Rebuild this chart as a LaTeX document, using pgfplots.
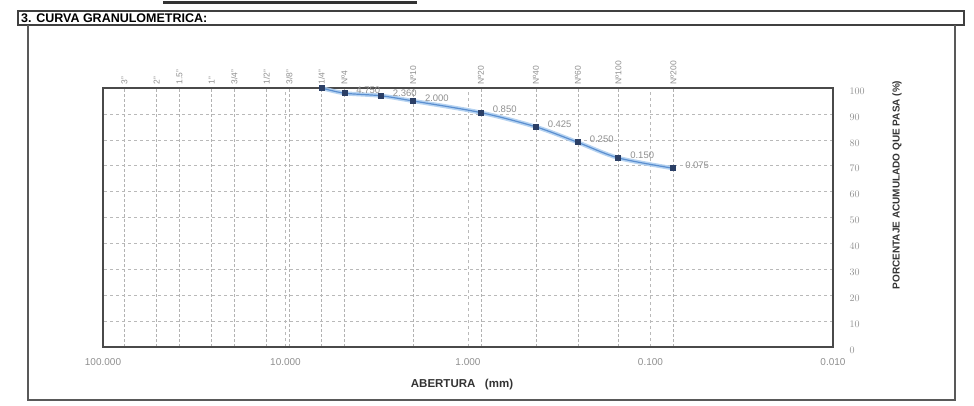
\documentclass[border=0pt]{standalone}
\usepackage{fontspec}
\setmainfont{Liberation Sans}
\usepackage{pgfplots}
\pgfplotsset{compat=1.18}
\definecolor{tickgray}{HTML}{8F8F8F}
\definecolor{lineblue}{HTML}{5B8FD0}
\definecolor{lightblue}{HTML}{A9CBEE}
\definecolor{navy}{HTML}{2B3F66}
\definecolor{framegray}{HTML}{4A4A4A}
\begin{document}
\begin{tikzpicture}[x=1pt,y=1pt]
\useasboundingbox (0,0) rectangle (974,405);
% section frame
\draw[line width=2.2pt, black!80] (163,402.5) -- (417,402.5);
\draw[line width=1.6pt, black!75] (18,380) rectangle (964,394);
\node[anchor=west, font=\fontsize{12.5}{14}\selectfont\bfseries, inner sep=0pt] at (21,387) {3. CURVA GRANULOMETRICA:};
\draw[line width=2pt, black!65] (28,380) -- (28,5) -- (955,5) -- (955,380);
% sieve grid and labels
\begin{axis}[at={(103pt,58pt)}, anchor=south west, width=730pt, height=259pt, scale only axis,
  xmode=log, x dir=reverse, xmin=0.01, xmax=100, ymin=0, ymax=100,
  axis y line=none, axis x line*=top, axis line style={draw=none},
  ytick=\empty,
  xtick={76.2,50.8,38.1,25.4,19.05,12.7,9.525,6.35,4.75,2.0,0.85,0.425,0.25,0.15,0.075},
  xticklabels={3",2",1.5",1",3/4",1/2",3/8",1/4",Nº4,Nº10,Nº20,Nº40,Nº60,Nº100,Nº200},
  xticklabel style={rotate=90, anchor=west, font=\fontsize{8.5}{10}\selectfont, text=tickgray, yshift=0pt},
  major tick length=0pt, minor tick length=0pt,
  xmajorgrids, major grid style={gray!60, densely dashed, line width=0.5pt}]
\addplot[draw=none] coordinates {(1,50)};
\end{axis}
% main axis
\begin{axis}[at={(103pt,58pt)}, anchor=south west, width=730pt, height=259pt, scale only axis,
  xmode=log, x dir=reverse, xmin=0.01, xmax=100, ymin=0, ymax=100,
  xtick={100,10,1,0.1,0.01}, xticklabels={100.000,10.000,1.000,0.100,0.010},
  ytick={0,10,...,100}, yticklabel pos=right,
  tick label style={font=\fontsize{10}{11}\selectfont, text=tickgray},
  xticklabel style={yshift=-8pt},
  yticklabel style={xshift=13pt, yshift=-3pt},
  major tick length=0pt, minor tick length=0pt,
  xminorgrids, minor grid style={gray!22, line width=0.4pt},
  xmajorgrids, ymajorgrids, major grid style={gray!55, dashed, line width=0.5pt},
  axis line style={framegray, line width=1.6pt},
  clip=false]
\addplot[smooth, line width=4.2pt, color=lightblue, opacity=0.85] coordinates {
(6.35,100) (4.75,98) (3.0,97) (2.0,95) (0.85,90.5) (0.425,85) (0.25,79) (0.15,73) (0.075,69)};
\addplot[smooth, line width=1.2pt, color=lineblue, mark=square*, mark size=2.4pt,
  mark options={fill=navy, draw=navy, solid},
  nodes near coords, point meta=explicit symbolic,
  nodes near coords style={anchor=west, xshift=8pt, yshift=3pt, font=\fontsize{9.5}{10}\selectfont, text=tickgray}]
coordinates {
(6.35,100) []
(4.75,98) [4.750]
(3.0,97) [2.360]
(2.0,95) [2.000]
(0.85,90.5) [0.850]
(0.425,85) [0.425]
(0.25,79) [0.250]
(0.15,73) [0.150]
(0.075,69) [0.075]
};
\end{axis}
\node[font=\fontsize{11.5}{13}\selectfont\bfseries, text=black!80] at (462,20) {ABERTURA\ \ \ (mm)};
\node[rotate=90, font=\fontsize{10}{12}\selectfont\bfseries, text=black!80] at (897,220) {PORCENTAJE ACUMULADO QUE PASA (\%)};
\end{tikzpicture}
\end{document}
